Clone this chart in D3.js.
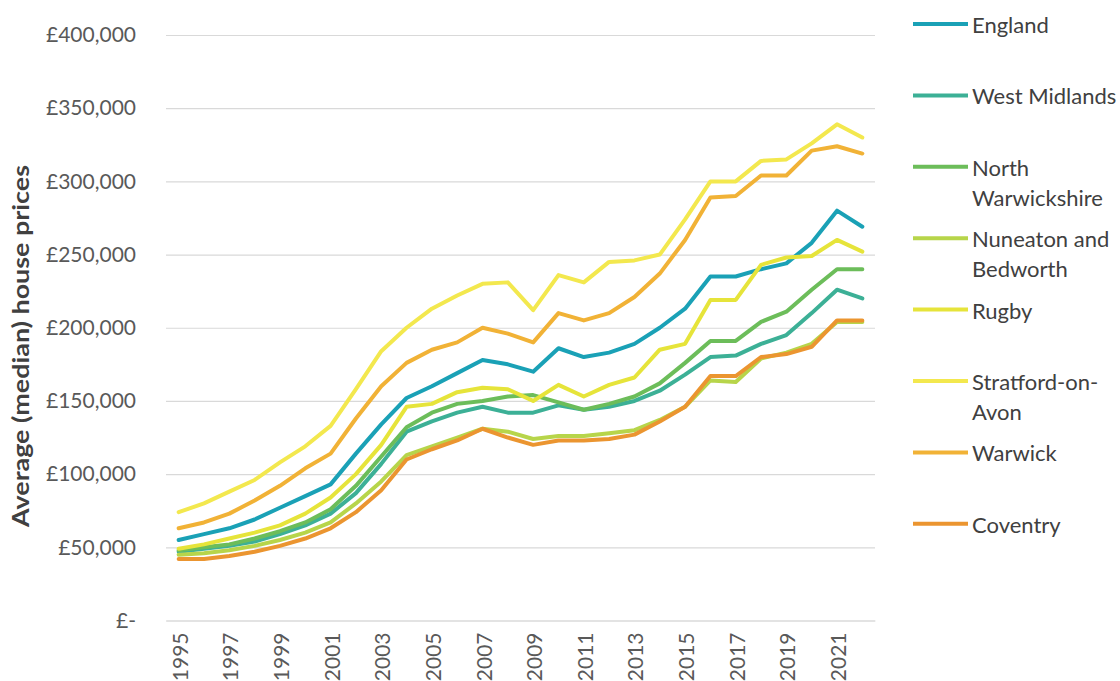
<!DOCTYPE html>
<html>
<head>
<meta charset="utf-8">
<script src="https://cdn.jsdelivr.net/npm/d3@7"></script>
<style>
  html, body { margin: 0; padding: 0; background: #ffffff; }
  svg { display: block; font-family: Lato, "Open Sans", sans-serif; }
</style>
</head>
<body>
<svg id="chart" width="1120" height="681"></svg>
<script>
const years = [1995,1996,1997,1998,1999,2000,2001,2002,2003,2004,2005,2006,2007,2008,2009,2010,2011,2012,2013,2014,2015,2016,2017,2018,2019,2020,2021,2022];
const xTickLabels = ["1995","1997","1999","2001","2003","2005","2007","2009","2011","2013","2015","2017","2019","2021"];
const yTicks = [0,50000,100000,150000,200000,250000,300000,350000,400000];
const yTickLabels = ["£-","£50,000","£100,000","£150,000","£200,000","£250,000","£300,000","£350,000","£400,000"];

const seriesNames = ["England","West Midlands","North Warwickshire","Nuneaton and Bedworth","Rugby","Stratford-on-Avon","Warwick","Coventry"];
const legendLines = [["England"],["West Midlands"],["North","Warwickshire"],["Nuneaton and","Bedworth"],["Rugby"],["Stratford-on-","Avon"],["Warwick"],["Coventry"]];
const seriesColors = ["#1aa1b6","#3cb096","#6cbd5a","#b7d54a","#e6e43a","#f3e84e","#f1b236","#eb9530"];

// values in £ thousands
const england      = [55,59,63,69,77,85,93,114,134,152,160,169,178,175,170,186,180,183,189,200,213,235,235,240,244,258,280,269];
const westMidlands = [47,49,51,54,59,65,73,87,107,129,136,142,146,142,142,147,144,146,150,157,168,180,181,189,195,210,226,220];
const northWarks   = [48,50,52,56,61,67,76,92,112,132,142,148,150,153,154,149,144,148,153,162,176,191,191,204,211,226,240,240];
const nuneaton     = [45,46,48,51,55,60,67,80,95,113,119,125,131,129,124,126,126,128,130,137,146,164,163,179,183,189,204,204];
const rugby        = [49,52,56,60,65,73,84,100,120,146,148,156,159,158,150,161,153,161,166,185,189,219,219,243,248,249,260,252];
const stratford    = [74,80,88,96,108,119,133,158,184,200,213,222,230,231,212,236,231,245,246,250,274,300,300,314,315,326,339,330];
const warwick      = [63,67,73,82,92,104,114,138,160,176,185,190,200,196,190,210,205,210,221,237,260,289,290,304,304,321,324,319];
const coventry     = [42,42,44,47,51,56,63,74,89,110,117,123,131,125,120,123,123,124,127,136,146,167,167,180,182,187,205,205];

const seriesValues = [england, westMidlands, northWarks, nuneaton, rugby, stratford, warwick, coventry];

const svg = d3.select("#chart");
const plot = { left: 166, right: 875, top: 35, bottom: 620.5 };

const x = d3.scalePoint().domain(years).range([plot.left, plot.right]).padding(0.5);
const y = d3.scaleLinear().domain([0, 400000]).range([plot.bottom, plot.top]);

// gridlines + y labels
const yAxis = d3.axisLeft(y).tickValues(yTicks).tickSize(-(plot.right - plot.left)).tickPadding(30)
  .tickFormat((d, i) => yTickLabels[i]);
const gy = svg.append("g").attr("transform", `translate(${plot.left},0)`).call(yAxis);
gy.select(".domain").remove();
gy.selectAll(".tick line").attr("stroke", "#d9d9d9").attr("stroke-width", 1.2);
gy.selectAll(".tick text").attr("fill", "#595959").style("font-size", "21px").style("font-family", "Lato");

// x axis labels
const xAxis = d3.axisBottom(x).tickValues(xTickLabels.map(Number)).tickSize(0).tickFormat(d => String(d));
const gx = svg.append("g").attr("transform", `translate(0,${plot.bottom})`).call(xAxis);
gx.select(".domain").attr("stroke", "#d9d9d9").attr("stroke-width", 1.2);
gx.selectAll(".tick text")
  .attr("fill", "#595959").style("font-size", "21px").style("font-family", "Lato")
  .attr("text-anchor", "end").attr("dy", null).attr("y", 0)
  .attr("transform", "translate(0,12) rotate(-90)")
  .attr("dominant-baseline", "central");

// y title
svg.append("text")
  .attr("transform", `translate(20,346) rotate(-90)`)
  .attr("text-anchor", "middle").attr("dominant-baseline", "central")
  .attr("fill", "#404040").style("font-size", "22px").style("font-weight", "bold")
  .attr("textLength", 362).attr("lengthAdjust", "spacingAndGlyphs")
  .text("Average (median) house prices");

// lines
const line = d3.line().x((d, i) => x(years[i])).y(d => y(d * 1000));
svg.append("g").selectAll("path").data(seriesValues).join("path")
  .attr("d", d => line(d))
  .attr("fill", "none")
  .attr("stroke", (d, i) => seriesColors[i])
  .attr("stroke-width", 4)
  .attr("stroke-linejoin", "round")
  .attr("stroke-linecap", "round");

// legend
const legend = svg.append("g");
const lgTop = 24, lgStep = 71.4, lgLine = 30;
seriesNames.forEach((name, i) => {
  const ly = lgTop + i * lgStep;
  legend.append("line").attr("x1", 913).attr("x2", 968).attr("y1", ly).attr("y2", ly)
    .attr("stroke", seriesColors[i]).attr("stroke-width", 4);
  legend.append("text").attr("x", 972).attr("y", ly).attr("dominant-baseline", "central")
    .attr("fill", "#404040").style("font-size", "22px").style("font-family", "Lato")
    .selectAll("tspan").data(legendLines[i]).join("tspan")
    .attr("x", 972).attr("dy", (d, j) => j === 0 ? 0 : lgLine).text(d => d);
});
</script>
</body>
</html>
